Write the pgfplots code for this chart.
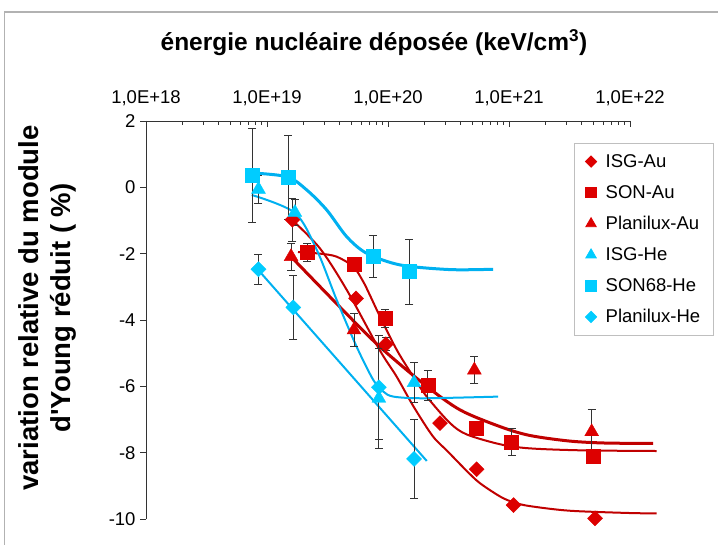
\documentclass[border=0pt]{standalone}
\usepackage{fontspec}
\setmainfont{Liberation Sans}
\usepackage{pgfplots}
\pgfplotsset{compat=1.18}
\definecolor{redM}{RGB}{221,0,0}
\definecolor{redL}{RGB}{192,0,0}
\definecolor{cyanM}{RGB}{0,204,255}
\definecolor{cyanL}{RGB}{0,176,240}
\begin{document}
\begin{tikzpicture}[x=1pt,y=1pt]
\useasboundingbox (0,0) rectangle (718,-545);
\draw[gray!60, line width=1.2pt] (4.5,-545) -- (4.5,-12) -- (718,-12);
\node[font=\bfseries\fontsize{24.5}{28}\selectfont] at (374,-43) {énergie nucléaire déposée (keV/cm\textsuperscript{3})};
\node[rotate=90, align=center, font=\bfseries\fontsize{27.5}{32}\selectfont] at (47,-308) {variation relative du module\\d\textquotesingle Young réduit ( \%)};
\begin{axis}[
  at={(146pt,-121pt)}, anchor=north west,
  scale only axis, width=484pt, height=398pt,
  xmode=log, xmin=1e18, xmax=1e22, ymin=-10, ymax=2,
  axis x line*=top, axis y line*=left,
  axis line style={black!80, line width=0.8pt},
  clip=false,
  xtick={1e18,1e19,1e20,1e21,1e22},
  xticklabels={{1,0E+18},{1,0E+19},{1,0E+20},{1,0E+21},{1,0E+22}},
  ytick={-10,-8,-6,-4,-2,0,2},
  yticklabels={-10,-8,-6,-4,-2,0,2},
  tick align=inside,
  major tick length=6pt, minor tick length=4pt,
  every tick/.style={black!80, line width=0.8pt},
  y tick style={xshift=-6pt},
  tick label style={font=\fontsize{18.5}{21}\selectfont},
  xticklabel style={yshift=12pt},
  yticklabel style={xshift=-7pt},
  error bars/error bar style={black!80, line width=0.8pt},
  error bars/error mark options={rotate=90, black!80, line width=0.8pt, mark size=4pt},
  legend style={at={(0.8843,0.9447)}, anchor=north west, draw=gray!50, line width=0.8pt,
    font=\fontsize{18.5}{21}\selectfont, row sep=12.5pt, inner xsep=11pt, inner ysep=9pt,
    /tikz/every odd column/.append style={column sep=7pt}},
  legend cell align=left,
  legend image post style={scale=0.75},
]
% fitted curves
\addplot[forget plot, redL, line width=2pt, smooth] coordinates {
 (1.61e19,-0.98) (2.75e19,-1.85) (4.57e19,-3.1) (8.51e19,-4.9) (1.175e20,-5.7) (1.62e20,-6.6)
 (2.34e20,-7.5) (3.09e20,-7.95) (4.47e20,-8.55) (5.75e20,-8.92) (8.51e20,-9.33) (1.096e21,-9.5)
 (1.479e21,-9.61) (3.16e21,-9.75) (1e22,-9.82) (1.66e22,-9.83)};
\addplot[forget plot, redL, line width=2pt, smooth] coordinates {
 (1.803e19,-1.95) (2.754e19,-2.0) (3.758e19,-2.09) (5.164e19,-2.39) (6.252e19,-2.85) (7.079e19,-3.25)
 (8.59e19,-3.9) (1.18e20,-4.9) (1.618e20,-5.71) (2.089e20,-6.31) (3.236e20,-7.1) (4.467e20,-7.45)
 (8.511e20,-7.75) (1.479e21,-7.87) (3.981e21,-7.93) (1.66e22,-7.95)};
\addplot[forget plot, redL, line width=3pt, smooth] coordinates {
 (1.578e19,-2.09) (3.981e19,-3.6) (8.511e19,-4.8) (2.089e20,-6.0) (3.981e20,-6.72) (8.511e20,-7.22)
 (1.479e21,-7.48) (3.162e21,-7.65) (6.31e21,-7.71) (1.549e22,-7.72)};
\addplot[forget plot, cyanL, line width=2pt, smooth] coordinates {
 (7.48e18,-0.23) (1.70e19,-0.77) (2.58e19,-1.89) (3.77e19,-3.40) (5.51e19,-4.81) (7.56e19,-5.81)
 (9.15e19,-6.16) (1.11e20,-6.31) (1.95e20,-6.36) (8.11e20,-6.31)};
\addplot[forget plot, cyanL, line width=3pt, smooth] coordinates {
 (7.0e18,0.44) (1.46e19,0.32) (2.13e19,-0.08) (3.11e19,-0.68) (4.56e19,-1.49) (6.67e19,-1.99)
 (1.26e20,-2.34) (3.25e20,-2.48) (7.38e20,-2.47)};
\addplot[forget plot, cyanL, line width=2pt] coordinates {(8.22e18,-2.44) (2.09e20,-8.25)};
% data
\addplot[only marks, mark=square*, mark size=5.3pt, mark options={rotate=45, fill=redM, draw=redM},
  error bars/.cd, y dir=both, y explicit] coordinates {
 (1.62e19,-0.98) +- (0,0.66) (5.44e19,-3.35) (9.6e19,-4.73) +- (0,0.2) (2.69e20,-7.11)
 (5.4e20,-8.50) (1.09e21,-9.58) (5.14e21,-9.98)};
\addlegendentry{ISG-Au}
\addplot[only marks, mark=square*, mark size=7pt, mark options={fill=redM, draw=redM},
  error bars/.cd, y dir=both, y explicit] coordinates {
 (2.15e19,-1.96) +- (0,0.28) (5.23e19,-2.31) (9.45e19,-3.95) +- (0,0.28) (2.13e20,-5.96) +- (0,0.45)
 (5.31e20,-7.27) (1.05e21,-7.67) +- (0,0.41) (4.98e21,-8.10)};
\addlegendentry{SON-Au}
\addplot[only marks, mark=triangle*, mark size=8pt, mark options={fill=redM, draw=redM},
  error bars/.cd, y dir=both, y explicit] coordinates {
 (1.58e19,-2.09) +- (0,0.4) (5.23e19,-4.30) +- (0,0.5) (5.17e20,-5.51) +- (0,0.4) (4.82e21,-7.37) +- (0,0.66)};
\addlegendentry{Planilux-Au}
\addplot[only marks, mark=triangle*, mark size=8pt, mark options={fill=cyanM, draw=cyanM},
  error bars/.cd, y dir=both, y explicit] coordinates {
 (8.5e18,-0.06) +- (0,0.42) (1.7e19,-0.76) +- (0,0.4) (8.4e19,-6.36) +- (0,1.5) (1.64e20,-5.89) +- (0,0.6)};
\addlegendentry{ISG-He}
\addplot[only marks, mark=square*, mark size=7pt, mark options={fill=cyanM, draw=cyanM},
  error bars/.cd, y dir=both, y explicit] coordinates {
 (7.5e18,0.37) +- (0,1.42) (1.5e19,0.30) +- (0,1.28) (7.5e19,-2.09) +- (0,0.64) (1.5e20,-2.54) +- (0,0.98)};
\addlegendentry{SON68-He}
\addplot[only marks, mark=square*, mark size=5.3pt, mark options={rotate=45, fill=cyanM, draw=cyanM},
  error bars/.cd, y dir=both, y explicit] coordinates {
 (8.5e18,-2.47) +- (0,0.46) (1.65e19,-3.62) +- (0,0.96) (8.4e19,-6.03) +- (0,1.58) (1.64e20,-8.19) +- (0,1.18)};
\addlegendentry{Planilux-He}
\end{axis}
\end{tikzpicture}
\end{document}
